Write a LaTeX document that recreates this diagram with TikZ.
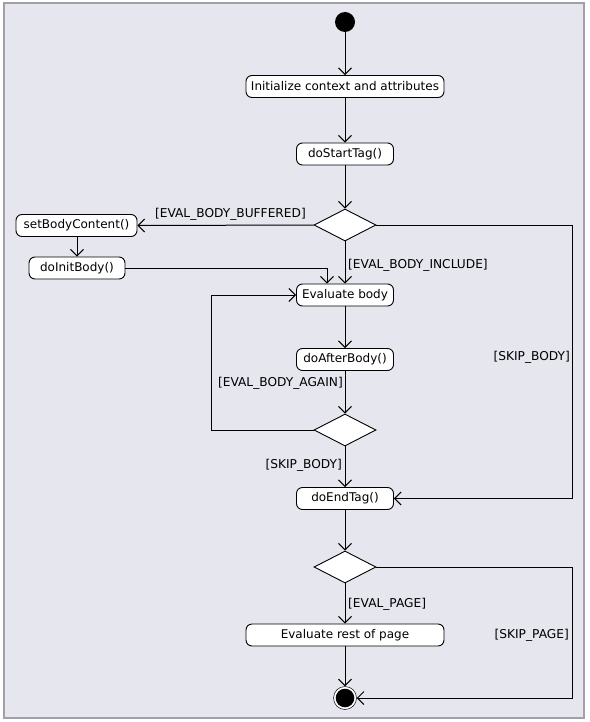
\documentclass[tikz,border=0pt]{standalone}
\usepackage{fontspec}
\setmainfont{DejaVu Sans}
\usetikzlibrary{arrows.meta,shapes.geometric,calc}
\definecolor{bgc}{HTML}{E6E6EF}
\definecolor{bordc}{HTML}{A29FA8}
\begin{document}
\begin{tikzpicture}[x=1pt,y=-1pt,
  act/.style={draw, rounded corners=6pt, fill=white, line width=0.9pt, minimum height=22pt, inner sep=0pt, font=\fontsize{12}{14}\selectfont},
  dec/.style={diamond, draw, fill=white, line width=0.9pt, minimum width=62pt, minimum height=32pt, inner sep=0pt, aspect=2},
  flow/.style={draw, line width=1pt, -{Straight Barb[length=6.5pt,width=13pt]}},
  lbl/.style={font=\fontsize{12.2}{14}\selectfont, inner sep=1pt}]
\useasboundingbox (0,0) rectangle (589,722);
\fill[bgc] (4,3) rectangle (584,718);
\draw[bordc, line width=1.3pt] (4,3) rectangle (584,718);

% nodes
\node[circle, fill=black, minimum size=20pt, inner sep=0pt] (start) at (345,22) {};
\node[act, minimum width=198pt] (init) at (345,86.5) {Initialize context and attributes};
\node[act, minimum width=97pt] (stag) at (345,154) {doStartTag()};
\node[dec] (d1) at (345,225) {};
\node[act, minimum width=121pt] (setbc) at (76.5,225.5) {setBodyContent()};
\node[act, minimum width=96pt] (initb) at (77,268) {doInitBody()};
\node[act, minimum width=97pt] (evalb) at (345,295) {Evaluate body};
\node[act, minimum width=97pt] (afterb) at (345,359.5) {doAfterBody()};
\node[dec] (d2) at (345,430) {};
\node[act, minimum width=97pt] (etag) at (345,498.5) {doEndTag()};
\node[dec] (d3) at (345,567) {};
\node[act, minimum width=198pt] (evalr) at (345,635) {Evaluate rest of page};
\node[circle, draw, line width=0.5pt, fill=white, minimum size=23pt, inner sep=0pt,
  path picture={\fill[black] (path picture bounding box.center) circle (9.3pt);}] (end) at (345,698) {};

\coordinate (r1) at (572,225);
\coordinate (r3) at (572,567);
\coordinate (l2) at (211,430);
\coordinate (ib) at ($(evalb.north)+(-18,0)$);

% connectors
\draw[flow] (start) -- (init);
\draw[flow] (init) -- (stag);
\draw[flow] (stag) -- (d1);
\draw[flow] (d1.west) -- (setbc.east);
\draw[flow] (setbc.south -| initb.north) -- (initb.north);
\draw[flow] (initb.east) -| (ib);
\draw[flow] (d1.south) -- (evalb.north);
\draw[flow] (d1.east) -- (r1) |- (etag.east);
\draw[flow] (evalb) -- (afterb);
\draw[flow] (afterb) -- (d2);
\draw[flow] (d2.west) -- (l2) |- (evalb.west);
\draw[flow] (d2.south) -- (etag.north);
\draw[flow] (etag) -- (d3);
\draw[flow] (d3.south) -- (evalr.north);
\draw[flow] (evalr) -- (end);
\draw[flow] (d3.east) -- (r3) |- (end.east);

% labels
\node[lbl, anchor=east] (lbuf) at (307,214) {[EVAL\_BODY\_BUFFERED]};
\node[lbl, anchor=west] (linc) at (347,265) {[EVAL\_BODY\_INCLUDE]};
\node[lbl, anchor=east] (lagain) at (344,383) {[EVAL\_BODY\_AGAIN]};
\node[lbl, anchor=east] (lskip1) at (571,357) {[SKIP\_BODY]};
\node[lbl, anchor=east] (lskip2) at (343,465) {[SKIP\_BODY]};
\node[lbl, anchor=west] (lpage) at (347,604) {[EVAL\_PAGE]};
\node[lbl, anchor=east] (lskipp) at (570,635) {[SKIP\_PAGE]};
\end{tikzpicture}
\end{document}
